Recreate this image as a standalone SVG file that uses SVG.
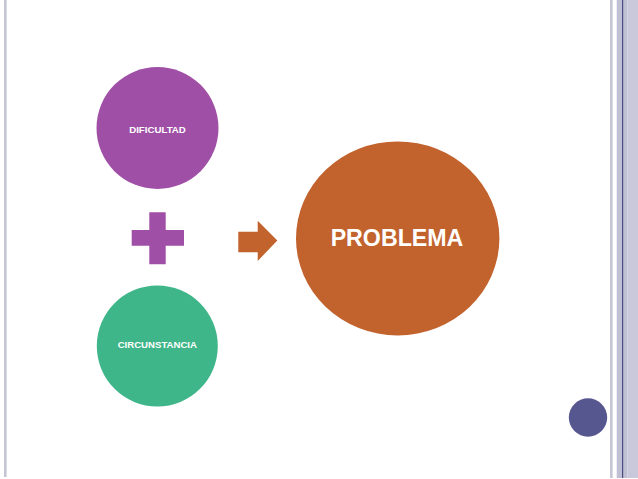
<svg xmlns="http://www.w3.org/2000/svg" width="638" height="479" viewBox="0 0 638 479">
<style>
.lbl{font-family:"Liberation Sans",Arial,sans-serif;font-weight:bold;fill:#ffffff;text-anchor:middle}
.rail{fill:#c5c6d4}
</style>
<rect width="638" height="479" fill="#ffffff"/>
<g id="frame">
<rect class="rail" x="4" y="0" width="2.6" height="477"/>
<rect class="rail" x="610" y="0" width="2.6" height="478"/>
<rect fill="#bfc0d4" x="616.7" y="0" width="10.6" height="478"/>
<rect fill="#c9c9db" x="627.3" y="0" width="10.7" height="478"/>
<rect fill="#4b4c82" x="622" y="0" width="1.2" height="478"/>
</g>
<g id="dificultad">
<circle cx="157.5" cy="128" r="61" fill="#a04fa6"/>
<text class="lbl" x="157.5" y="133.2" font-size="9.7">DIFICULTAD</text>
</g>
<g id="circunstancia">
<circle cx="157.3" cy="346" r="60.5" fill="#3fb68a"/>
<text class="lbl" x="157.3" y="348.4" font-size="9.6">CIRCUNSTANCIA</text>
</g>
<g id="problema">
<ellipse cx="397.7" cy="238.4" rx="101.7" ry="97" fill="#c2622d"/>
<text class="lbl" x="397" y="246" font-size="23.2">PROBLEMA</text>
</g>
<g id="connectors">
<path id="plus" d="M149.3 212.3H165.7V230H184V245.7H165.7V264.3H149.3V245.7H131.7V230H149.3Z" fill="#a04fa6"/>
<path id="arrow" d="M238.3 231.7H257.7V220.7L277.3 240.5L257.7 261V252.3H238.3Z" fill="#c2622d"/>
</g>
<g id="page-dot">
<circle cx="588" cy="417.5" r="19.2" fill="#56578f"/>
</g>
</svg>
